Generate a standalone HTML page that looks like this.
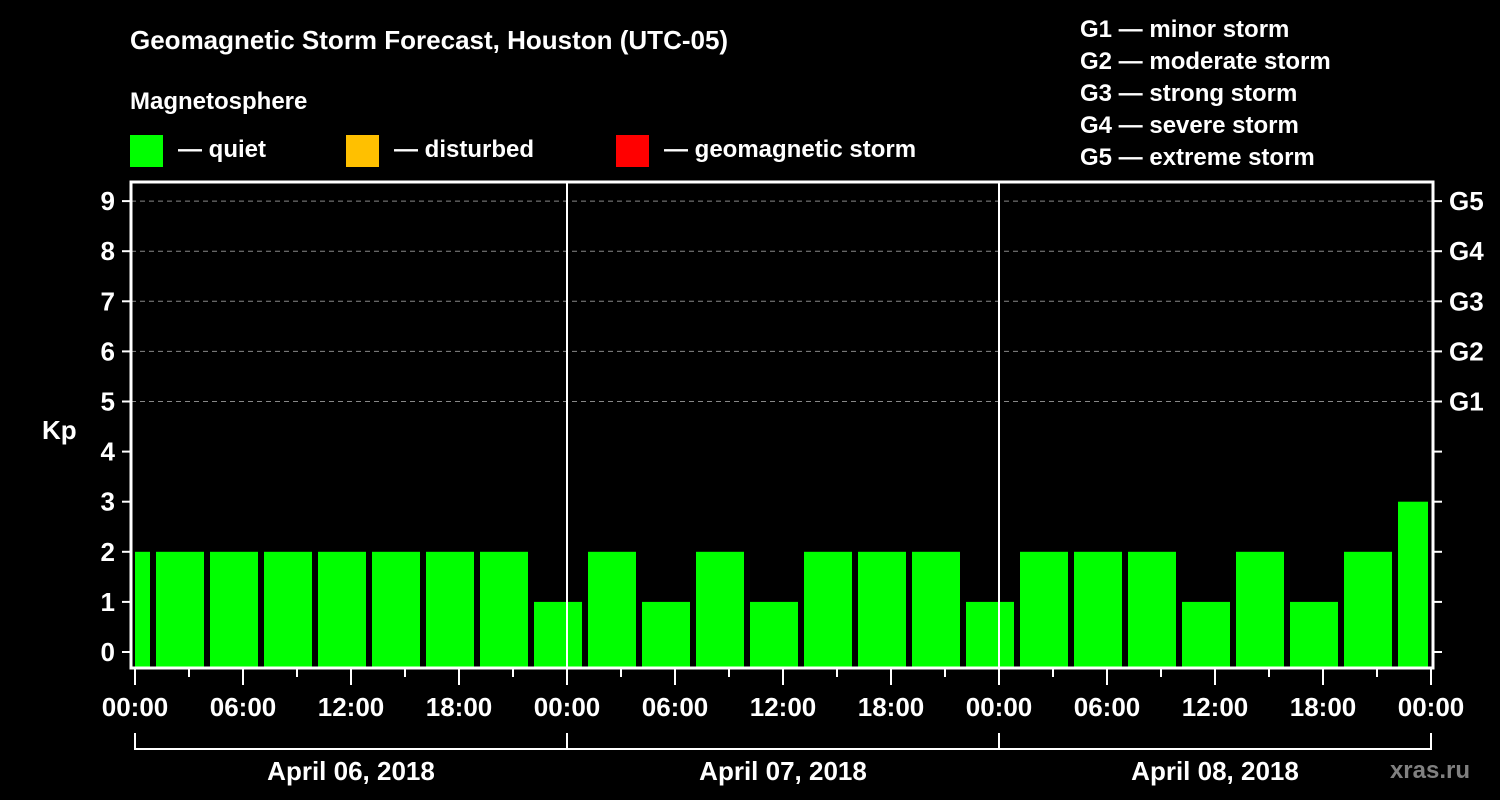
<!DOCTYPE html>
<html><head><meta charset="utf-8"><style>
html,body{margin:0;padding:0;background:#000;width:1500px;height:800px;overflow:hidden}
svg{display:block}
text{font-family:"Liberation Sans",Arial,sans-serif;font-weight:bold;fill:#fff}
</style></head><body>
<svg id="chart" width="1500" height="800" viewBox="0 0 1500 800">
<rect width="1500" height="800" fill="#000"/>
<text x="130" y="49" font-size="26">Geomagnetic Storm Forecast, Houston (UTC-05)</text>
<text x="130" y="109" font-size="24">Magnetosphere</text>
<g><rect x="130" y="135" width="33" height="32" fill="#00ff00"/><text x="178" y="157" font-size="24">— quiet</text></g>
<g><rect x="346" y="135" width="33" height="32" fill="#ffc000"/><text x="394" y="157" font-size="24">— disturbed</text></g>
<g><rect x="616" y="135" width="33" height="32" fill="#ff0000"/><text x="664" y="157" font-size="24">— geomagnetic storm</text></g>
<g font-size="24">
<text x="1080" y="37">G1 — minor storm</text>
<text x="1080" y="69">G2 — moderate storm</text>
<text x="1080" y="101">G3 — strong storm</text>
<text x="1080" y="133">G4 — severe storm</text>
<text x="1080" y="165">G5 — extreme storm</text>
</g>
<text x="42" y="439" font-size="26">Kp</text>
<text x="1470" y="778" font-size="24" text-anchor="end" style="fill:#808080">xras.ru</text>
<g id="plot"></g>
</svg>
<script>
const kpValues = [2, 2,2,2,2,2,2,2, 1, 2,1,2,1,2,2,2, 1, 2,2,2,1,2,1,2, 3];
const barStartHours = kpValues.map((v,i)=>-2+3*i);
const dayLabels = ["April 06, 2018","April 07, 2018","April 08, 2018"];
const hourTickLabels = ["00:00","06:00","12:00","18:00"];
const gLabels = ["G1","G2","G3","G4","G5"];
const yTicks = [0,1,2,3,4,5,6,7,8,9];

const NS="http://www.w3.org/2000/svg";
const g=document.getElementById('plot');
const X0=135, PX_H=18, HOURS=72;
const xs=h=>X0+h*PX_H;
const ys=v=>652-v*50.1;
const TOP=182, BOT=668, L=131, R=1433;
function mk(t,a){const e=document.createElementNS(NS,t);for(const k in a)e.setAttribute(k,a[k]);g.appendChild(e);return e;}

// grid dashed 5..9
yTicks.filter(v=>v>=5).forEach(v=>{
 const e=mk('line',{x1:L,x2:R,y1:ys(v),y2:ys(v),stroke:'#888','stroke-width':1,'stroke-dasharray':'5,4'});
 
 
});
// bars
kpValues.forEach((v,i)=>{
 const h=barStartHours[i];
 let x1=Math.max(xs(h)+3,X0), x2=Math.min(xs(h+3)-3,xs(HOURS)-3);
 const color=v>=5?'#ff0000':(v>=4?'#ffc000':'#00ff00');
 const e=mk('rect',{x:x1,y:ys(v),width:x2-x1,height:BOT-ys(v),fill:color});
 
 
});
// day separators
[1,2].forEach(d=>{
 const e=mk('line',{x1:xs(24*d),x2:xs(24*d),y1:TOP,y2:BOT,stroke:'#fff','stroke-width':2});
 
 
});
// frame
const fr=mk('rect',{x:L,y:TOP,width:R-L,height:BOT-TOP,fill:'none',stroke:'#fff','stroke-width':3});


// y ticks and labels
yTicks.forEach(v=>{
 mk('line',{x1:122,x2:L,y1:ys(v),y2:ys(v),stroke:'#fff','stroke-width':2});
 mk('line',{x1:R,x2:1442,y1:ys(v),y2:ys(v),stroke:'#fff','stroke-width':2});
 const t=mk('text',{x:115,y:ys(v)+9,'font-size':26,'text-anchor':'end'});
 t.textContent=v;
 
 
});
gLabels.forEach((s,i)=>{
 const t=mk('text',{x:1449,y:ys(5+i)+9,'font-size':26});
 t.textContent=s;
 
 
});
// x ticks
for(let h=0;h<=HOURS;h+=3){
 const long=h%6===0;
 mk('line',{x1:xs(h),x2:xs(h),y1:BOT,y2:long?685:677,stroke:'#fff','stroke-width':2});
 if(long){
  const t=mk('text',{x:xs(h),y:716,'font-size':26,'text-anchor':'middle'});
  t.textContent=hourTickLabels[(h/6)%4];
  
  
 }
}
// day bracket
mk('line',{x1:xs(0),x2:xs(HOURS),y1:749,y2:749,stroke:'#fff','stroke-width':2});
for(let d=0;d<=3;d++) mk('line',{x1:xs(24*d),x2:xs(24*d),y1:733,y2:750,stroke:'#fff','stroke-width':2});
dayLabels.forEach((s,d)=>{
 const t=mk('text',{x:xs(24*d+12),y:780,'font-size':26,'text-anchor':'middle'});
 t.textContent=s;
 
 
});
</script>
</body></html>
